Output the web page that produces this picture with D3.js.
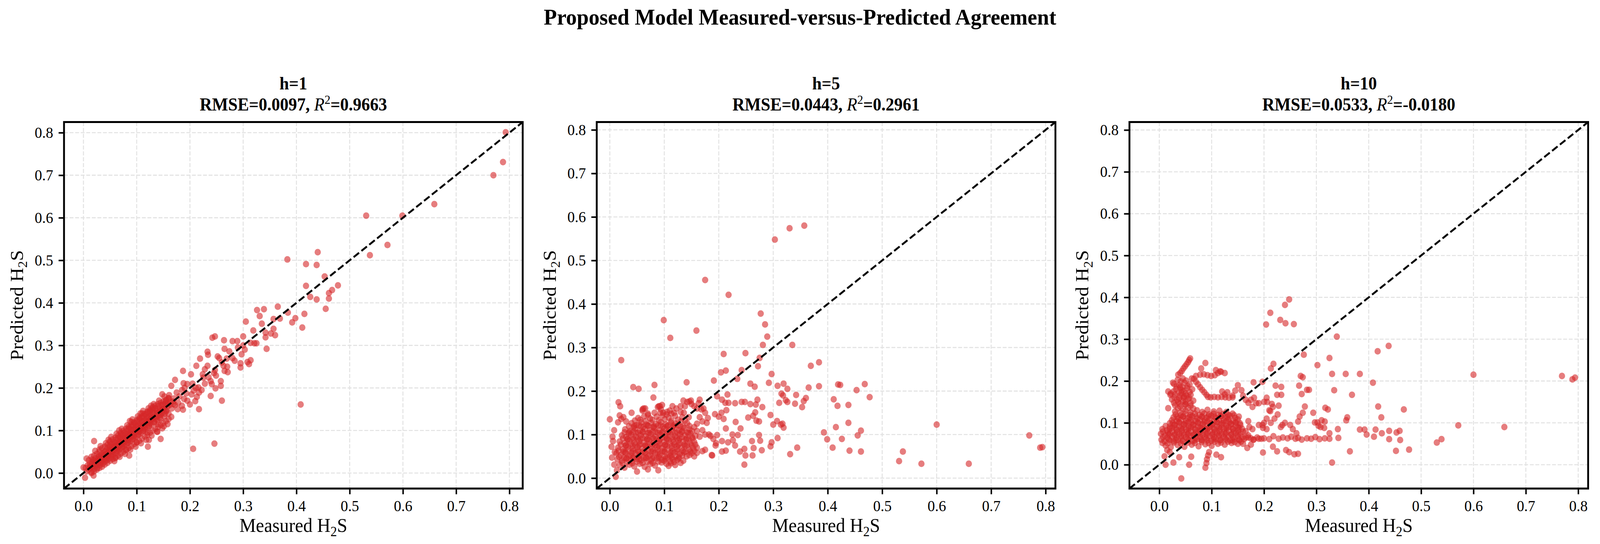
<!DOCTYPE html>
<html>
<head>
<meta charset="utf-8">
<script src="https://cdn.jsdelivr.net/npm/d3@7"></script>
<style>
  html, body { margin: 0; padding: 0; background: #ffffff; overflow: hidden; }
  svg { display: block; width: 100vw; height: 100vh; }
</style>
</head>
<body>
<svg id="chart"></svg>
<script>
// ---- data ----
var suptitle = "Proposed Model Measured-versus-Predicted Agreement";
var horizons = ["h=1", "h=5", "h=10"];
var rmseValues = ["0.0097", "0.0443", "0.0533"];
var r2Values = ["0.9663", "0.2961", "-0.0180"];
var tickValues = [0, 0.1, 0.2, 0.3, 0.4, 0.5, 0.6, 0.7, 0.8];
var axisLimits = [[-0.0365, 0.825], [-0.024, 0.818], [-0.057, 0.819]];

// [measured, predicted]
var h1Points = [
  [0.793,0.801],[0.788,0.731],[0.770,0.700],[0.659,0.632],[0.599,0.605],[0.531,0.605],[0.571,0.536],[0.538,0.512],
  [0.440,0.519],[0.383,0.502],[0.418,0.491],[0.438,0.489],[0.453,0.462],[0.478,0.441],[0.418,0.440],[0.467,0.430],
  [0.461,0.423],[0.426,0.414],[0.461,0.410],[0.438,0.408],[0.455,0.386],[0.365,0.391],[0.339,0.385],[0.326,0.383],
  [0.331,0.369],[0.415,0.374],[0.384,0.377],[0.398,0.364],[0.369,0.363],[0.357,0.362],[0.392,0.354],[0.305,0.356],
  [0.335,0.351],[0.411,0.342],[0.357,0.339],[0.319,0.335],[0.342,0.330],[0.352,0.328],[0.360,0.324],[0.342,0.319],
  [0.300,0.321],[0.247,0.321],[0.242,0.318],[0.264,0.312],[0.280,0.310],[0.289,0.310],[0.314,0.306],[0.321,0.305],
  [0.325,0.305],[0.344,0.292],[0.303,0.290],[0.265,0.292],[0.233,0.285],[0.274,0.286],[0.234,0.278],[0.219,0.269],
  [0.252,0.274],[0.314,0.265],[0.308,0.261],[0.297,0.279],[0.284,0.264],[0.269,0.269],[0.295,0.258],[0.311,0.256],
  [0.295,0.248],[0.233,0.252],[0.212,0.252],[0.263,0.252],[0.270,0.250],[0.228,0.244],[0.247,0.242],[0.187,0.240],
  [0.271,0.237],[0.202,0.232],[0.224,0.232],[0.249,0.229],[0.225,0.224],[0.172,0.219],[0.239,0.216],[0.258,0.216],
  [0.188,0.211],[0.195,0.209],[0.241,0.209],[0.258,0.205],[0.165,0.205],[0.216,0.201],[0.248,0.199],[0.211,0.200],
  [0.207,0.194],[0.148,0.185],[0.161,0.183],[0.175,0.189],[0.217,0.189],[0.239,0.181],[0.213,0.179],[0.189,0.174],
  [0.210,0.169],[0.260,0.170],[0.200,0.161],[0.177,0.150],[0.187,0.149],[0.217,0.150],[0.408,0.161],[0.206,0.057],
  [0.246,0.069],[0.151,0.110],[0.139,0.097],[0.145,0.080],[0.123,0.078],[0.121,0.062],[0.086,0.041],[0.020,0.075],
  [0.003,-0.011],[0.019,-0.006],[0.000,0.013],[0.006,0.034],[0.017,0.032],
  [0.170,0.175],[0.180,0.180],[0.168,0.168],[0.185,0.195],[0.193,0.187],[0.178,0.165],[0.195,0.170],[0.203,0.185],
  [0.160,0.175],[0.155,0.170],[0.172,0.160],[0.185,0.158],[0.190,0.200],[0.205,0.210],[0.222,0.195],[0.228,0.210],
  [0.235,0.225],[0.245,0.235],[0.260,0.260],[0.265,0.240],[0.280,0.270],[0.290,0.295],[0.300,0.300],[0.255,0.270],
  [0.004,0.012],[0.006,0.004],[0.008,0.018],[0.010,0.008],[0.012,0.022],[0.013,0.012],[0.015,0.002],[0.016,0.026],
  [0.018,0.015],[0.019,0.030],[0.020,0.010],[0.021,0.022],[0.023,0.034],[0.024,0.018],[0.025,0.027],[0.026,0.012],
  [0.028,0.038],[0.029,0.024],[0.030,0.031],[0.031,0.019],[0.033,0.042],[0.034,0.028],[0.035,0.036],[0.036,0.022],
  [0.037,0.047],[0.038,0.033],[0.039,0.040],[0.040,0.027],[0.041,0.052],[0.042,0.037],[0.043,0.045],[0.044,0.030],
  [0.045,0.058],[0.046,0.041],[0.047,0.050],[0.048,0.034],[0.049,0.063],[0.050,0.046],[0.051,0.055],[0.052,0.038],
  [0.053,0.068],[0.054,0.050],[0.055,0.060],[0.056,0.043],[0.057,0.072],[0.058,0.054],[0.059,0.064],[0.060,0.047],
  [0.061,0.078],[0.062,0.058],[0.063,0.068],[0.064,0.051],[0.065,0.082],[0.066,0.062],[0.067,0.073],[0.068,0.055],
  [0.069,0.086],[0.070,0.066],[0.071,0.077],[0.072,0.059],[0.073,0.090],[0.074,0.070],[0.075,0.081],[0.076,0.063],
  [0.077,0.095],[0.078,0.074],[0.079,0.085],[0.080,0.067],[0.081,0.099],[0.082,0.078],[0.083,0.090],[0.084,0.071],
  [0.085,0.104],[0.086,0.083],[0.087,0.094],[0.088,0.075],[0.089,0.108],[0.090,0.087],[0.091,0.098],[0.092,0.079],
  [0.093,0.112],[0.094,0.091],[0.095,0.103],[0.096,0.083],[0.097,0.117],[0.098,0.096],[0.099,0.107],[0.100,0.087],
  [0.101,0.121],[0.102,0.100],[0.103,0.111],[0.104,0.091],[0.105,0.126],[0.106,0.104],[0.107,0.116],[0.108,0.095],
  [0.109,0.130],[0.110,0.108],[0.111,0.120],[0.112,0.099],[0.113,0.134],[0.114,0.112],[0.115,0.124],[0.116,0.103],
  [0.117,0.138],[0.118,0.116],[0.119,0.128],[0.120,0.107],[0.121,0.142],[0.122,0.120],[0.123,0.132],[0.124,0.111],
  [0.125,0.145],[0.126,0.124],[0.127,0.136],[0.128,0.115],[0.130,0.148],[0.131,0.128],[0.132,0.140],[0.133,0.119],
  [0.135,0.152],[0.136,0.132],[0.138,0.144],[0.139,0.124],[0.141,0.157],[0.142,0.136],[0.144,0.148],[0.145,0.128],
  [0.147,0.160],[0.148,0.141],[0.150,0.152],[0.152,0.133],[0.154,0.164],[0.156,0.146],[0.158,0.157],[0.160,0.140],
  [0.163,0.168],[0.166,0.152],[0.169,0.162],
  [0.030,0.055],[0.050,0.075],[0.070,0.095],[0.090,0.120],[0.110,0.140],[0.130,0.155],[0.060,0.035],[0.080,0.055],
  [0.100,0.072],[0.120,0.095],[0.140,0.115],
  [0.010,0.030],[0.015,0.038],[0.020,0.041],[0.025,0.045],[0.030,0.050],[0.035,0.058],[0.040,0.062],[0.045,0.066],
  [0.050,0.072],[0.055,0.079],[0.060,0.083],[0.065,0.088],[0.070,0.092],[0.075,0.099],[0.080,0.104],[0.085,0.108],
  [0.090,0.113],[0.095,0.119],[0.100,0.124],[0.105,0.129],[0.110,0.133],[0.115,0.139],[0.120,0.144],[0.125,0.148],
  [0.130,0.152],[0.135,0.158],[0.140,0.162],[0.145,0.165],[0.150,0.168],[0.155,0.172],[0.160,0.176],
  [0.022,0.052],[0.032,0.063],[0.042,0.070],[0.052,0.085],[0.062,0.092],[0.072,0.104],[0.082,0.112],[0.092,0.126],
  [0.102,0.133],[0.112,0.146],[0.122,0.152],[0.132,0.162],[0.142,0.170],[0.152,0.180],[0.047,0.078],[0.067,0.100],
  [0.087,0.122],[0.107,0.140],[0.127,0.158],
  [0.015,0.000],[0.020,0.004],[0.025,0.008],[0.030,0.012],[0.035,0.015],[0.040,0.020],[0.045,0.024],[0.050,0.029],
  [0.055,0.033],[0.060,0.037],[0.065,0.041],[0.070,0.046],[0.075,0.050],[0.080,0.054],[0.085,0.059],[0.090,0.063],
  [0.095,0.068],[0.100,0.072],[0.105,0.076],[0.110,0.081],[0.115,0.086],[0.120,0.090],[0.125,0.095],[0.130,0.100],
  [0.135,0.104],[0.140,0.108],[0.145,0.113],[0.150,0.118],[0.155,0.122],[0.160,0.127],[0.165,0.132],
  [0.058,0.028],[0.078,0.045],[0.098,0.062],[0.118,0.078],[0.138,0.097],[0.158,0.115],[0.068,0.038],[0.088,0.055],
  [0.108,0.070],[0.128,0.088],[0.148,0.105],
  [0.012,0.015],[0.022,0.026],[0.032,0.035],[0.042,0.044],[0.052,0.053],[0.062,0.063],[0.072,0.072],[0.082,0.083],
  [0.092,0.092],[0.102,0.103],[0.112,0.112],[0.122,0.123],[0.132,0.131],[0.142,0.142],[0.152,0.150],[0.162,0.160],
  [0.027,0.030],[0.047,0.048],[0.067,0.066],[0.087,0.088],[0.107,0.106],[0.127,0.128],[0.147,0.145],
  [0.015,0.016],[0.025,0.022],[0.035,0.032],[0.045,0.040],[0.055,0.050],[0.065,0.058],[0.075,0.068],[0.085,0.077],
  [0.095,0.087],[0.105,0.097],[0.115,0.107],[0.125,0.117],[0.135,0.127],[0.145,0.137],[0.155,0.147],
  [0.018,0.024],[0.028,0.033],[0.038,0.043],[0.048,0.053],[0.058,0.062],[0.068,0.072],[0.078,0.082],[0.088,0.092],
  [0.098,0.101],[0.108,0.111],[0.118,0.121],[0.128,0.131],[0.138,0.140],[0.148,0.150],[0.158,0.162],
  [0.033,0.025],[0.043,0.034],[0.053,0.043],[0.063,0.053],[0.073,0.062],[0.083,0.072],[0.093,0.081],[0.103,0.090],
  [0.113,0.100],[0.123,0.110],[0.133,0.120],[0.143,0.130],[0.153,0.139],
  [0.030,0.040],[0.040,0.050],[0.050,0.060],[0.060,0.071],[0.070,0.081],[0.080,0.091],[0.090,0.101],[0.100,0.111],
  [0.110,0.121],[0.120,0.131],[0.130,0.142],[0.140,0.151],[0.150,0.160]
];

var h5Points = [
  [0.330,0.574],[0.357,0.580],[0.303,0.548],[0.175,0.455],[0.218,0.421],[0.099,0.363],[0.277,0.378],[0.285,0.353],
  [0.159,0.339],[0.289,0.325],[0.111,0.322],[0.281,0.306],[0.335,0.306],[0.021,0.271],[0.209,0.285],[0.249,0.287],
  [0.275,0.276],[0.384,0.266],[0.369,0.258],[0.242,0.248],[0.204,0.243],[0.213,0.247],[0.272,0.257],[0.297,0.239],
  [0.234,0.228],[0.191,0.224],[0.292,0.219],[0.258,0.217],[0.266,0.210],[0.141,0.220],[0.043,0.209],[0.053,0.205],
  [0.082,0.214],[0.308,0.212],[0.319,0.217],[0.326,0.205],[0.365,0.208],[0.384,0.211],[0.419,0.215],[0.423,0.214],
  [0.468,0.216],[0.453,0.202],[0.477,0.186],[0.315,0.194],[0.318,0.190],[0.342,0.191],[0.360,0.184],[0.411,0.181],
  [0.418,0.166],[0.438,0.168],[0.323,0.179],[0.326,0.175],[0.311,0.173],[0.340,0.171],[0.356,0.177],[0.353,0.163],
  [0.216,0.192],[0.197,0.188],[0.206,0.180],[0.218,0.173],[0.212,0.173],[0.230,0.172],[0.242,0.175],[0.248,0.175],
  [0.258,0.170],[0.268,0.169],[0.271,0.180],[0.280,0.163],[0.214,0.156],[0.205,0.150],[0.193,0.147],[0.209,0.136],
  [0.200,0.141],[0.267,0.151],[0.263,0.143],[0.254,0.139],[0.269,0.132],[0.274,0.130],[0.295,0.145],[0.300,0.123],
  [0.307,0.131],[0.317,0.125],[0.319,0.116],[0.314,0.123],[0.231,0.129],[0.240,0.114],[0.213,0.114],[0.438,0.127],
  [0.415,0.117],[0.393,0.105],[0.399,0.089],[0.426,0.090],[0.461,0.109],[0.455,0.098],[0.600,0.123],[0.770,0.098],
  [0.790,0.070],[0.794,0.071],[0.659,0.033],[0.572,0.033],[0.531,0.039],[0.538,0.061],[0.461,0.061],[0.440,0.063],
  [0.409,0.070],[0.344,0.070],[0.331,0.055],[0.308,0.092],[0.297,0.082],[0.295,0.073],[0.274,0.099],[0.276,0.086],
  [0.279,0.064],[0.264,0.069],[0.261,0.085],[0.262,0.052],[0.249,0.052],[0.247,0.031],[0.239,0.061],[0.247,0.067],
  [0.230,0.075],[0.235,0.099],[0.225,0.100],[0.226,0.087],[0.217,0.082],[0.206,0.085],[0.194,0.075],[0.213,0.063],
  [0.206,0.061],[0.187,0.053],[0.197,0.099],[0.182,0.100],
  [0.146,0.176],[0.150,0.170],[0.155,0.165],[0.160,0.160],[0.163,0.172],[0.168,0.158],[0.172,0.160],[0.175,0.150],
  [0.180,0.138],[0.178,0.127],[0.170,0.130],[0.165,0.140],[0.160,0.125],[0.160,0.108],[0.165,0.095],[0.170,0.110],
  [0.175,0.100],[0.185,0.097],[0.190,0.090],[0.195,0.080],[0.160,0.070],[0.170,0.062],[0.175,0.065],[0.155,0.050],
  [0.160,0.058],[0.188,0.052],[0.149,0.178],[0.142,0.175],[0.138,0.165],[0.130,0.165],[0.122,0.160],[0.115,0.165],
  [0.110,0.155],[0.135,0.178],[0.165,0.180],
  [0.000,0.135],[0.016,0.174],[0.019,0.165],[0.018,0.144],[0.015,0.128],[0.021,0.136],[0.025,0.140],[0.030,0.130],
  [0.040,0.150],[0.080,0.185],[0.060,0.155],[0.065,0.160],[0.088,0.163],[0.092,0.165],[0.096,0.168],[0.070,0.145],
  [0.008,0.110],[0.005,0.095],[0.003,0.072],[0.004,0.047],[0.008,0.031],[0.011,0.003],[0.009,0.060],[0.006,0.085],
  [0.013,0.018],[0.050,0.015],[0.070,0.020],[0.089,0.018],[0.108,0.028],[0.120,0.030],[0.130,0.035],[0.135,0.040],
  [0.112,0.034],
  [0.018,0.030],[0.027,0.024],[0.036,0.031],[0.045,0.027],[0.055,0.033],[0.064,0.026],[0.074,0.032],[0.083,0.029],
  [0.095,0.036],[0.104,0.033],[0.118,0.037],
  [0.014,0.043],[0.022,0.040],[0.031,0.045],[0.040,0.039],[0.049,0.044],[0.058,0.041],[0.067,0.046],[0.076,0.040],
  [0.086,0.045],[0.096,0.042],[0.106,0.047],[0.116,0.043],[0.127,0.048],[0.141,0.050],
  [0.012,0.057],[0.020,0.053],[0.029,0.058],[0.038,0.052],[0.047,0.057],[0.056,0.054],[0.065,0.059],[0.074,0.053],
  [0.083,0.058],[0.092,0.055],[0.101,0.060],[0.110,0.054],[0.119,0.059],[0.129,0.056],[0.139,0.061],[0.150,0.057],
  [0.015,0.070],[0.024,0.066],[0.033,0.072],[0.042,0.067],[0.051,0.071],[0.060,0.068],[0.069,0.073],[0.078,0.067],
  [0.087,0.072],[0.096,0.069],[0.105,0.074],[0.114,0.068],[0.123,0.073],[0.132,0.070],[0.142,0.075],[0.153,0.069],
  [0.018,0.084],[0.027,0.080],[0.036,0.086],[0.045,0.081],[0.054,0.085],[0.063,0.082],[0.072,0.087],[0.081,0.081],
  [0.090,0.086],[0.099,0.083],[0.108,0.088],[0.117,0.082],[0.126,0.087],[0.135,0.084],[0.145,0.089],[0.155,0.083],
  [0.022,0.098],[0.030,0.094],[0.039,0.100],[0.048,0.095],[0.057,0.099],[0.066,0.096],[0.075,0.101],[0.084,0.095],
  [0.093,0.100],[0.102,0.097],[0.111,0.102],[0.120,0.096],[0.129,0.101],[0.138,0.098],[0.148,0.103],[0.157,0.097],
  [0.028,0.112],[0.037,0.108],[0.046,0.114],[0.055,0.109],[0.064,0.113],[0.073,0.110],[0.082,0.115],[0.091,0.109],
  [0.100,0.114],[0.109,0.111],[0.118,0.116],[0.127,0.110],[0.136,0.115],[0.146,0.112],[0.155,0.117],
  [0.040,0.126],[0.049,0.122],[0.058,0.128],[0.067,0.123],[0.076,0.127],[0.085,0.124],[0.094,0.129],[0.103,0.123],
  [0.112,0.128],[0.121,0.125],[0.131,0.130],[0.142,0.126],
  [0.052,0.138],[0.063,0.142],[0.074,0.137],[0.086,0.141],[0.097,0.144],[0.108,0.139],[0.120,0.143],[0.133,0.140],
  [0.060,0.158],[0.062,0.160],[0.090,0.165],[0.094,0.158],[0.098,0.150],[0.105,0.152],[0.113,0.148],[0.130,0.152],
  [0.136,0.150],[0.145,0.140],
  [0.023,0.035],[0.032,0.037],[0.041,0.034],[0.050,0.038],[0.060,0.035],[0.069,0.038],[0.079,0.035],[0.089,0.038],
  [0.100,0.040],[0.111,0.038],[0.124,0.042],
  [0.017,0.049],[0.026,0.047],[0.035,0.051],[0.044,0.048],[0.053,0.050],[0.062,0.047],[0.071,0.051],[0.081,0.048],
  [0.091,0.051],[0.101,0.049],[0.111,0.051],[0.121,0.050],[0.133,0.052],[0.146,0.053],
  [0.016,0.063],[0.025,0.061],[0.034,0.065],[0.043,0.062],[0.052,0.064],[0.061,0.061],[0.070,0.065],[0.079,0.062],
  [0.088,0.065],[0.097,0.062],[0.106,0.066],[0.115,0.062],[0.124,0.066],[0.134,0.063],[0.145,0.066],[0.155,0.063],
  [0.020,0.077],[0.029,0.075],[0.038,0.079],[0.047,0.076],[0.056,0.078],[0.065,0.075],[0.074,0.079],[0.083,0.076],
  [0.092,0.079],[0.101,0.076],[0.110,0.080],[0.119,0.077],[0.128,0.080],[0.137,0.077],[0.147,0.080],[0.157,0.077],
  [0.024,0.091],[0.033,0.089],[0.042,0.093],[0.051,0.090],[0.060,0.092],[0.069,0.089],[0.078,0.093],[0.087,0.090],
  [0.096,0.093],[0.105,0.090],[0.114,0.094],[0.123,0.091],[0.132,0.094],[0.141,0.091],[0.151,0.094],
  [0.027,0.105],[0.034,0.103],[0.043,0.107],[0.052,0.104],[0.061,0.106],[0.070,0.103],[0.079,0.107],[0.088,0.104],
  [0.097,0.107],[0.106,0.104],[0.115,0.108],[0.124,0.105],[0.133,0.108],[0.142,0.105],[0.151,0.108],
  [0.035,0.119],[0.044,0.117],[0.053,0.121],[0.062,0.118],[0.071,0.120],[0.080,0.117],[0.089,0.121],[0.098,0.118],
  [0.107,0.121],[0.116,0.118],[0.125,0.121],[0.135,0.118],[0.146,0.120],
  [0.046,0.132],[0.056,0.134],[0.066,0.131],[0.078,0.134],[0.090,0.133],[0.101,0.135],[0.113,0.132],[0.125,0.134],
  [0.138,0.132],
  [0.070,0.148],[0.082,0.150],[0.093,0.150],[0.104,0.146],[0.118,0.150],
  [0.030,0.045],[0.042,0.046],[0.054,0.044],[0.066,0.047],[0.078,0.045],[0.090,0.047],[0.102,0.045],[0.114,0.047],
  [0.126,0.045],
  [0.028,0.060],[0.040,0.059],[0.052,0.061],[0.064,0.059],[0.076,0.061],[0.088,0.059],[0.100,0.061],[0.112,0.059],
  [0.124,0.061],[0.136,0.059],[0.148,0.061],
  [0.030,0.075],[0.042,0.074],[0.054,0.076],[0.066,0.074],[0.078,0.076],[0.090,0.074],[0.102,0.076],[0.114,0.074],
  [0.126,0.076],[0.138,0.074],[0.150,0.076],
  [0.032,0.090],[0.044,0.089],[0.056,0.091],[0.068,0.089],[0.080,0.091],[0.092,0.089],[0.104,0.091],[0.116,0.089],
  [0.128,0.091],[0.140,0.089],[0.152,0.091],
  [0.036,0.105],[0.048,0.104],[0.060,0.106],[0.072,0.104],[0.084,0.106],[0.096,0.104],[0.108,0.106],[0.120,0.104],
  [0.132,0.106],[0.144,0.104],
  [0.045,0.120],[0.057,0.119],[0.069,0.121],[0.081,0.119],[0.093,0.121],[0.105,0.119],[0.117,0.121],[0.129,0.119]
];

var h10Points = [
  [0.248,0.395],[0.240,0.382],[0.212,0.363],[0.231,0.346],[0.241,0.338],[0.204,0.335],[0.257,0.336],[0.339,0.306],
  [0.438,0.284],[0.417,0.271],[0.276,0.263],[0.325,0.255],[0.218,0.241],[0.302,0.238],[0.213,0.230],[0.270,0.212],
  [0.274,0.209],[0.330,0.217],[0.356,0.217],[0.383,0.217],[0.408,0.196],[0.600,0.215],[0.769,0.212],[0.789,0.204],
  [0.794,0.208],[0.222,0.189],[0.233,0.186],[0.267,0.189],[0.282,0.179],[0.286,0.179],[0.334,0.178],[0.368,0.167],
  [0.272,0.169],[0.225,0.167],[0.233,0.167],[0.206,0.150],[0.228,0.141],[0.278,0.139],[0.418,0.139],[0.317,0.136],
  [0.322,0.132],[0.467,0.132],[0.217,0.138],[0.212,0.128],[0.274,0.124],[0.294,0.124],[0.424,0.113],[0.359,0.113],
  [0.268,0.115],[0.265,0.103],[0.310,0.106],[0.297,0.101],[0.302,0.101],[0.316,0.103],[0.357,0.106],[0.308,0.090],
  [0.315,0.088],[0.304,0.093],[0.341,0.085],[0.383,0.084],[0.392,0.084],[0.413,0.084],[0.439,0.081],[0.459,0.081],
  [0.571,0.094],[0.659,0.090],[0.453,0.077],[0.396,0.072],[0.410,0.067],[0.425,0.075],[0.325,0.075],[0.342,0.064],
  [0.439,0.061],[0.460,0.059],[0.539,0.061],[0.530,0.053],[0.477,0.036],[0.452,0.033],[0.364,0.032],[0.330,0.005],
  [0.200,0.063],[0.210,0.061],[0.218,0.068],[0.228,0.062],[0.236,0.065],[0.245,0.063],[0.252,0.067],[0.260,0.062],
  [0.265,0.064],[0.272,0.060],[0.282,0.063],[0.290,0.062],[0.298,0.066],[0.306,0.061],[0.316,0.063],[0.325,0.062],
  [0.170,0.065],[0.180,0.060],[0.190,0.062],
  [0.198,0.029],[0.225,0.032],[0.242,0.035],[0.248,0.030],[0.258,0.025],[0.265,0.026],[0.217,0.043],[0.235,0.095],
  [0.197,0.095],[0.205,0.085],[0.213,0.100],[0.220,0.110],[0.226,0.120],[0.232,0.090],[0.240,0.100],[0.250,0.095],
  [0.255,0.085],[0.262,0.075],[0.210,0.130],[0.215,0.145],[0.200,0.150],[0.205,0.160],
  [0.145,0.177],[0.150,0.190],[0.157,0.178],[0.130,0.173],[0.140,0.165],[0.160,0.165],[0.165,0.155],[0.170,0.148],
  [0.175,0.155],[0.181,0.160],[0.170,0.104],[0.178,0.138],[0.180,0.197],[0.197,0.198],[0.185,0.147],[0.190,0.147],
  [0.120,0.175],[0.125,0.168],
  [0.165,0.080],[0.170,0.070],[0.175,0.063],[0.180,0.060],[0.187,0.065],[0.195,0.062],[0.160,0.050],[0.168,0.040],
  [0.175,0.048],[0.165,0.065],[0.172,0.090],[0.178,0.085],[0.190,0.095],[0.198,0.088],[0.200,0.100],[0.205,0.110],
  [0.042,-0.033],[0.057,0.000],[0.012,0.000],[0.027,0.005],[0.038,0.018],[0.061,0.019],[0.109,0.024],[0.118,0.018],
  [0.088,-0.007],[0.090,0.004],[0.091,0.013],[0.093,0.022],[0.095,0.030],[0.010,0.020],[0.015,0.035],[0.020,0.030],
  [0.059,0.254],[0.057,0.250],[0.055,0.245],[0.052,0.240],[0.049,0.235],[0.046,0.230],[0.043,0.224],[0.040,0.219],
  [0.036,0.215],
  [0.066,0.205],[0.070,0.198],[0.074,0.192],[0.078,0.185],[0.082,0.179],[0.086,0.173],[0.090,0.167],[0.093,0.162],
  [0.098,0.161],[0.105,0.162],[0.112,0.161],[0.119,0.162],[0.126,0.161],[0.133,0.160],[0.140,0.161],
  [0.062,0.206],[0.070,0.212],[0.078,0.215],[0.085,0.216],[0.092,0.214],[0.099,0.212],[0.106,0.214],[0.112,0.219],
  [0.118,0.222],[0.125,0.219],[0.088,0.243],[0.080,0.230],[0.108,0.226],[0.116,0.223],
  [0.030,0.142],[0.040,0.139],[0.050,0.144],[0.060,0.141],[0.034,0.155],[0.045,0.152],[0.055,0.157],[0.065,0.153],
  [0.030,0.168],[0.040,0.165],[0.050,0.170],[0.060,0.167],[0.032,0.181],[0.043,0.178],[0.053,0.183],[0.063,0.180],
  [0.028,0.193],[0.038,0.190],[0.048,0.196],[0.058,0.192],[0.035,0.203],[0.045,0.206],[0.022,0.170],[0.017,0.175],
  [0.021,0.167],[0.024,0.156],[0.017,0.135],[0.026,0.196],
  [0.012,0.046],[0.022,0.042],[0.035,0.047],[0.048,0.043],[0.062,0.048],[0.075,0.044],[0.088,0.049],[0.100,0.045],
  [0.112,0.050],[0.125,0.048],[0.138,0.052],[0.150,0.050],
  [0.004,0.060],[0.010,0.056],[0.018,0.061],[0.027,0.056],[0.036,0.060],[0.045,0.057],[0.054,0.062],[0.063,0.057],
  [0.072,0.061],[0.081,0.058],[0.090,0.063],[0.099,0.057],[0.108,0.062],[0.117,0.059],[0.126,0.063],[0.135,0.058],
  [0.144,0.062],[0.153,0.059],[0.162,0.061],
  [0.003,0.074],[0.011,0.070],[0.020,0.075],[0.029,0.070],[0.038,0.074],[0.047,0.071],[0.056,0.076],[0.065,0.070],
  [0.074,0.075],[0.083,0.072],[0.092,0.077],[0.101,0.071],[0.110,0.076],[0.119,0.073],[0.128,0.077],[0.137,0.072],
  [0.146,0.076],[0.155,0.073],
  [0.006,0.085],[0.014,0.082],[0.024,0.088],[0.033,0.083],[0.042,0.087],[0.051,0.084],[0.060,0.089],[0.069,0.083],
  [0.078,0.088],[0.087,0.085],[0.096,0.090],[0.105,0.084],[0.114,0.089],[0.123,0.086],[0.132,0.090],[0.141,0.085],
  [0.150,0.089],[0.158,0.086],
  [0.020,0.099],[0.029,0.096],[0.038,0.101],[0.047,0.097],[0.056,0.102],[0.065,0.096],[0.074,0.101],[0.083,0.098],
  [0.092,0.103],[0.101,0.097],[0.110,0.102],[0.119,0.099],[0.128,0.104],[0.137,0.098],[0.146,0.102],[0.154,0.099],
  [0.027,0.113],[0.036,0.110],[0.045,0.115],[0.054,0.111],[0.063,0.116],[0.072,0.110],[0.081,0.115],[0.090,0.112],
  [0.099,0.117],[0.108,0.111],[0.117,0.116],[0.126,0.113],[0.135,0.117],[0.145,0.112],[0.152,0.115],
  [0.030,0.127],[0.040,0.124],[0.050,0.129],[0.060,0.125],[0.072,0.130],[0.082,0.126],[0.092,0.131],[0.104,0.127],
  [0.115,0.129],[0.128,0.126],[0.140,0.122],
  [0.006,0.052],[0.016,0.051],[0.028,0.053],[0.041,0.051],[0.055,0.053],[0.068,0.052],[0.081,0.054],[0.094,0.052],
  [0.106,0.055],[0.118,0.053],[0.131,0.055],[0.144,0.054],[0.156,0.055],
  [0.007,0.066],[0.015,0.064],[0.024,0.067],[0.033,0.064],[0.042,0.067],[0.051,0.065],[0.060,0.068],[0.069,0.064],
  [0.078,0.067],[0.087,0.065],[0.096,0.068],[0.105,0.065],[0.114,0.068],[0.123,0.066],[0.132,0.068],[0.141,0.065],
  [0.150,0.068],[0.159,0.066],
  [0.007,0.079],[0.016,0.077],[0.025,0.080],[0.034,0.078],[0.043,0.081],[0.052,0.078],[0.061,0.081],[0.070,0.077],
  [0.079,0.081],[0.088,0.079],[0.097,0.082],[0.106,0.078],[0.115,0.081],[0.124,0.079],[0.133,0.082],[0.142,0.079],
  [0.151,0.082],[0.160,0.079],
  [0.012,0.092],[0.020,0.091],[0.029,0.094],[0.038,0.092],[0.047,0.095],[0.056,0.092],[0.065,0.095],[0.074,0.091],
  [0.083,0.095],[0.092,0.093],[0.101,0.096],[0.110,0.092],[0.119,0.095],[0.128,0.093],[0.137,0.096],[0.146,0.093],
  [0.155,0.095],
  [0.024,0.106],[0.033,0.104],[0.042,0.108],[0.051,0.105],[0.060,0.108],[0.069,0.104],[0.078,0.108],[0.087,0.106],
  [0.096,0.109],[0.105,0.105],[0.114,0.108],[0.123,0.106],[0.132,0.109],[0.141,0.105],[0.150,0.108],
  [0.031,0.120],[0.041,0.118],[0.050,0.121],[0.059,0.119],[0.068,0.122],[0.077,0.119],[0.086,0.122],[0.095,0.120],
  [0.104,0.122],[0.113,0.119],[0.122,0.121],[0.132,0.119],[0.143,0.118],
  [0.035,0.135],[0.045,0.133],[0.055,0.136],[0.065,0.134],[0.028,0.148],[0.039,0.146],[0.050,0.150],[0.060,0.147],
  [0.029,0.161],[0.038,0.159],[0.047,0.163],[0.057,0.160],[0.027,0.175],[0.037,0.173],[0.047,0.176],[0.058,0.174],
  [0.033,0.187],[0.044,0.185],[0.054,0.188],[0.041,0.199],[0.051,0.201],
  [0.020,0.058],[0.032,0.059],[0.044,0.057],[0.056,0.059],[0.068,0.058],[0.080,0.060],[0.092,0.058],[0.104,0.060],
  [0.116,0.058],[0.128,0.060],[0.140,0.058],[0.152,0.060],
  [0.018,0.072],[0.030,0.073],[0.042,0.071],[0.054,0.073],[0.066,0.072],[0.078,0.074],[0.090,0.072],[0.102,0.074],
  [0.114,0.072],[0.126,0.074],[0.138,0.072],[0.150,0.074],
  [0.020,0.086],[0.032,0.087],[0.044,0.085],[0.056,0.087],[0.068,0.086],[0.080,0.088],[0.092,0.086],[0.104,0.088],
  [0.116,0.086],[0.128,0.088],[0.140,0.086],[0.152,0.088],
  [0.026,0.100],[0.038,0.101],[0.050,0.099],[0.062,0.101],[0.074,0.100],[0.086,0.102],[0.098,0.100],[0.110,0.102],
  [0.122,0.100],[0.134,0.102],[0.146,0.100],
  [0.034,0.114],[0.046,0.115],[0.058,0.113],[0.070,0.115],[0.082,0.114],[0.094,0.116],[0.106,0.114],[0.118,0.116],
  [0.130,0.114],
  [0.036,0.150],[0.046,0.160],[0.042,0.172],[0.052,0.165],[0.040,0.185],[0.050,0.145]
];

// ---- layout (in reference pixels, the viewBox keeps it fitted to the window) ----
var width = 4316;
var height = 1393;
var fontStack = "'Liberation Serif', 'Times New Roman', 'DejaVu Serif', serif";
var red = "#d62728";
var axTop = 312.5;
var axW = 1237.3;
var axH = 938.5;
var axLefts = [172.7, 1609.7, 3046.7];
var panels = [h1Points, h5Points, h10Points];
var fmt = d3.format(".1f");

var svg = d3
  .select("#chart")
  .attr("viewBox", "0 0 " + width + " " + height)
  .attr("preserveAspectRatio", "none")
  .style("font-family", fontStack);

svg.append("rect").attr("width", width).attr("height", height).attr("fill", "#ffffff");

svg
  .append("text")
  .attr("x", width / 2)
  .attr("y", 63)
  .attr("text-anchor", "middle")
  .style("font-size", "58px")
  .style("font-weight", "bold")
  .text(suptitle);

// label with a subscript 2, e.g. "Measured H2S"
function chemLabel(sel, prefix, size) {
  var shift = size * 0.22;
  sel.append("tspan").text(prefix + "H");
  sel.append("tspan").attr("dy", shift).style("font-size", size * 0.7 + "px").text("2");
  sel.append("tspan").attr("dy", -shift).text("S");
}

panels.forEach(function (points, i) {
  var lim = axisLimits[i];
  var x = d3.scaleLinear().domain(lim).range([0, axW]);
  var y = d3.scaleLinear().domain(lim).range([axH, 0]);

  var g = svg
    .append("g")
    .attr("transform", "translate(" + axLefts[i] + "," + axTop + ")");

  // grid
  var grid = g.append("g").attr("class", "grid");
  grid
    .selectAll("line.gx")
    .data(tickValues)
    .enter()
    .append("line")
    .attr("class", "gx")
    .attr("x1", function (d) { return x(d); })
    .attr("x2", function (d) { return x(d); })
    .attr("y1", 0)
    .attr("y2", axH);
  grid
    .selectAll("line.gy")
    .data(tickValues)
    .enter()
    .append("line")
    .attr("class", "gy")
    .attr("x1", 0)
    .attr("x2", axW)
    .attr("y1", function (d) { return y(d); })
    .attr("y2", function (d) { return y(d); });
  grid
    .selectAll("line")
    .style("stroke", "#e2e2e2")
    .style("stroke-width", 2.6)
    .style("stroke-dasharray", "10.5 4.5");

  // scatter
  g.append("g")
    .selectAll("circle")
    .data(points)
    .enter()
    .append("circle")
    .attr("cx", function (d) { return x(d[0]); })
    .attr("cy", function (d) { return y(d[1]); })
    .attr("r", 8.5)
    .style("fill", red)
    .style("fill-opacity", 0.6);

  // 1:1 line
  g.append("line")
    .attr("x1", x(lim[0]))
    .attr("y1", y(lim[0]))
    .attr("x2", x(lim[1]))
    .attr("y2", y(lim[1]))
    .style("stroke", "#000000")
    .style("stroke-width", 5)
    .style("stroke-dasharray", "18.5 8");

  // axes
  var xAxis = d3.axisBottom(x).tickValues(tickValues).tickFormat(fmt).tickSize(14.6).tickPadding(14.6);
  var yAxis = d3.axisLeft(y).tickValues(tickValues).tickFormat(fmt).tickSize(14.6).tickPadding(14.6);

  var gx = g.append("g").attr("transform", "translate(0," + axH + ")").call(xAxis);
  var gy = g.append("g").call(yAxis);
  [gx, gy].forEach(function (a) {
    a.select(".domain").remove();
    a.attr("font-family", fontStack).attr("font-size", 40);
    a.selectAll(".tick line").style("stroke", "#000000").style("stroke-width", 4);
    a.selectAll(".tick text").style("fill", "#000000");
  });

  // frame
  g.append("rect")
    .attr("width", axW)
    .attr("height", axH)
    .style("fill", "none")
    .style("stroke", "#000000")
    .style("stroke-width", 5);

  // titles
  var cx = axW / 2;
  g.append("text")
    .attr("x", cx)
    .attr("y", 229 - axTop)
    .attr("text-anchor", "middle")
    .style("font-size", "46px")
    .style("font-weight", "bold")
    .text(horizons[i]);

  var t2 = g
    .append("text")
    .attr("x", cx)
    .attr("y", 283 - axTop)
    .attr("text-anchor", "middle")
    .style("font-size", "46px")
    .style("font-weight", "bold");
  t2.append("tspan").text("RMSE=" + rmseValues[i] + ", ");
  t2.append("tspan").style("font-style", "italic").style("font-weight", "normal").text("R");
  t2.append("tspan").attr("dy", -17).style("font-size", "32px").style("font-weight", "normal").text("2");
  t2.append("tspan").attr("dy", 17).text("=" + r2Values[i]);

  // axis labels
  var xl = g
    .append("text")
    .attr("x", cx)
    .attr("y", 1362 - axTop)
    .attr("text-anchor", "middle")
    .style("font-size", "50px");
  chemLabel(xl, "Measured ", 50);

  var yl = g
    .append("text")
    .attr("transform", "translate(-110.7," + axH / 2 + ") rotate(-90)")
    .attr("text-anchor", "middle")
    .style("font-size", "50px");
  chemLabel(yl, "Predicted ", 50);
});
</script>
</body>
</html>
